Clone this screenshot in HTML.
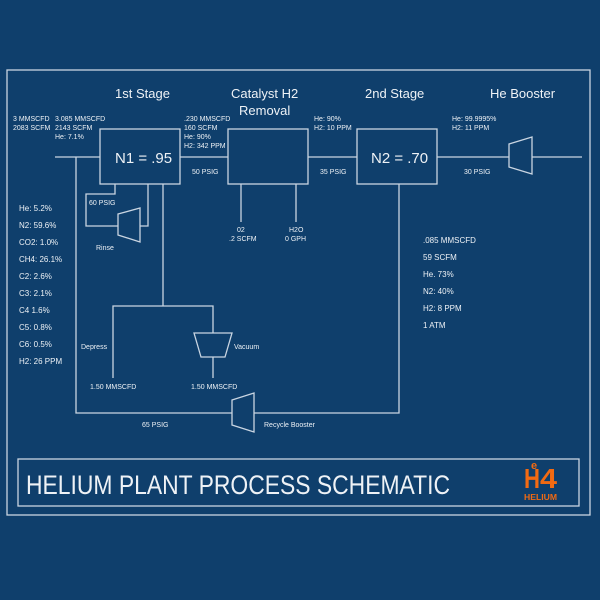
<!DOCTYPE html>
<html><head><style>
html,body{margin:0;padding:0;background:#0f3f6c;}
svg{display:block;}
text{font-family:"Liberation Sans",sans-serif;fill:#eef2f6;}
</style></head><body>
<svg width="600" height="600" viewBox="0 0 600 600" xmlns="http://www.w3.org/2000/svg">
<rect width="600" height="600" fill="#0f3f6c"/>
<g fill="none" stroke="#c9d5e2" stroke-width="1.3">
<rect x="7" y="70" width="583" height="445"/>
<rect x="18" y="459" width="561" height="47"/>
<rect x="100" y="129" width="80" height="55"/>
<rect x="228" y="129" width="80" height="55"/>
<rect x="357" y="129" width="80" height="55"/>
<path d="M55 157H100M180 157H228M308 157H357M437 157H509M532 157H582"/>
<path d="M509 144L532 137V174L509 167Z"/>
<path d="M76 157V413H232M254 413H399V184"/>
<path d="M232 400L254 393V432L232 425Z"/>
<path d="M115 184V194H86V226H118M140 226H148V184"/>
<path d="M118 214L140 208V242L118 235Z"/>
<path d="M163 184V306M113 378V306H213V333M213 357V378"/>
<path d="M194 333H232L225 357H201Z"/>
<path d="M241 184V222M296 184V222"/>
</g>
<g font-size="13">
<text x="115" y="98">1st Stage</text>
<text x="231" y="98">Catalyst H2</text>
<text x="239" y="115">Removal</text>
<text x="365" y="98">2nd Stage</text>
<text x="490" y="98">He Booster</text>
</g>
<text x="115" y="163" font-size="15">N1 = .95</text>
<text x="371" y="163" font-size="15">N2 = .70</text>
<g font-size="7">
<text x="13" y="121">3 MMSCFD</text><text x="13" y="130">2083 SCFM</text>
<text x="55" y="121">3.085 MMSCFD</text><text x="55" y="130">2143 SCFM</text><text x="55" y="139">He: 7.1%</text>
<text x="184" y="121">.230 MMSCFD</text><text x="184" y="130">160 SCFM</text><text x="184" y="139">He: 90%</text><text x="184" y="148">H2: 342 PPM</text>
<text x="192" y="174">50 PSIG</text>
<text x="314" y="121">He: 90%</text><text x="314" y="130">H2: 10 PPM</text>
<text x="320" y="174">35 PSIG</text>
<text x="452" y="121">He: 99.9995%</text><text x="452" y="130">H2: 11 PPM</text>
<text x="464" y="174">30 PSIG</text>
<text x="89" y="205">60 PSIG</text>
<text x="96" y="250">Rinse</text>
<text x="237" y="232">02</text><text x="229" y="241">.2 SCFM</text>
<text x="289" y="232">H2O</text><text x="285" y="241">0 GPH</text>
<text x="81" y="349">Depress</text>
<text x="234" y="349">Vacuum</text>
<text x="90" y="389">1.50 MMSCFD</text>
<text x="191" y="389">1.50 MMSCFD</text>
<text x="142" y="427">65 PSIG</text>
<text x="264" y="427">Recycle Booster</text>
</g>
<g font-size="8">
<text x="19" y="211">He: 5.2%</text>
<text x="19" y="228">N2: 59.6%</text>
<text x="19" y="245">CO2: 1.0%</text>
<text x="19" y="262">CH4: 26.1%</text>
<text x="19" y="279">C2: 2.6%</text>
<text x="19" y="296">C3: 2.1%</text>
<text x="19" y="313">C4 1.6%</text>
<text x="19" y="330">C5: 0.8%</text>
<text x="19" y="347">C6: 0.5%</text>
<text x="19" y="364">H2: 26 PPM</text>
<text x="423" y="243">.085 MMSCFD</text>
<text x="423" y="260">59 SCFM</text>
<text x="423" y="277">He. 73%</text>
<text x="423" y="294">N2: 40%</text>
<text x="423" y="311">H2: 8 PPM</text>
<text x="423" y="328">1 ATM</text>
</g>
<text x="26" y="494" font-size="27" textLength="424" lengthAdjust="spacingAndGlyphs">HELIUM PLANT PROCESS SCHEMATIC</text>
<text x="524" y="488" font-size="28" font-weight="bold" style="fill:#f26a12" textLength="16" lengthAdjust="spacingAndGlyphs">H</text>
<text x="540" y="488" font-size="28" font-weight="bold" style="fill:#f26a12" textLength="17" lengthAdjust="spacingAndGlyphs">4</text>
<text x="531" y="469" font-size="11" font-weight="bold" style="fill:#f26a12">e</text>
<text x="524" y="500" font-size="8" font-weight="bold" style="fill:#f26a12" textLength="33" lengthAdjust="spacingAndGlyphs">HELIUM</text>
</svg>
</body></html>
